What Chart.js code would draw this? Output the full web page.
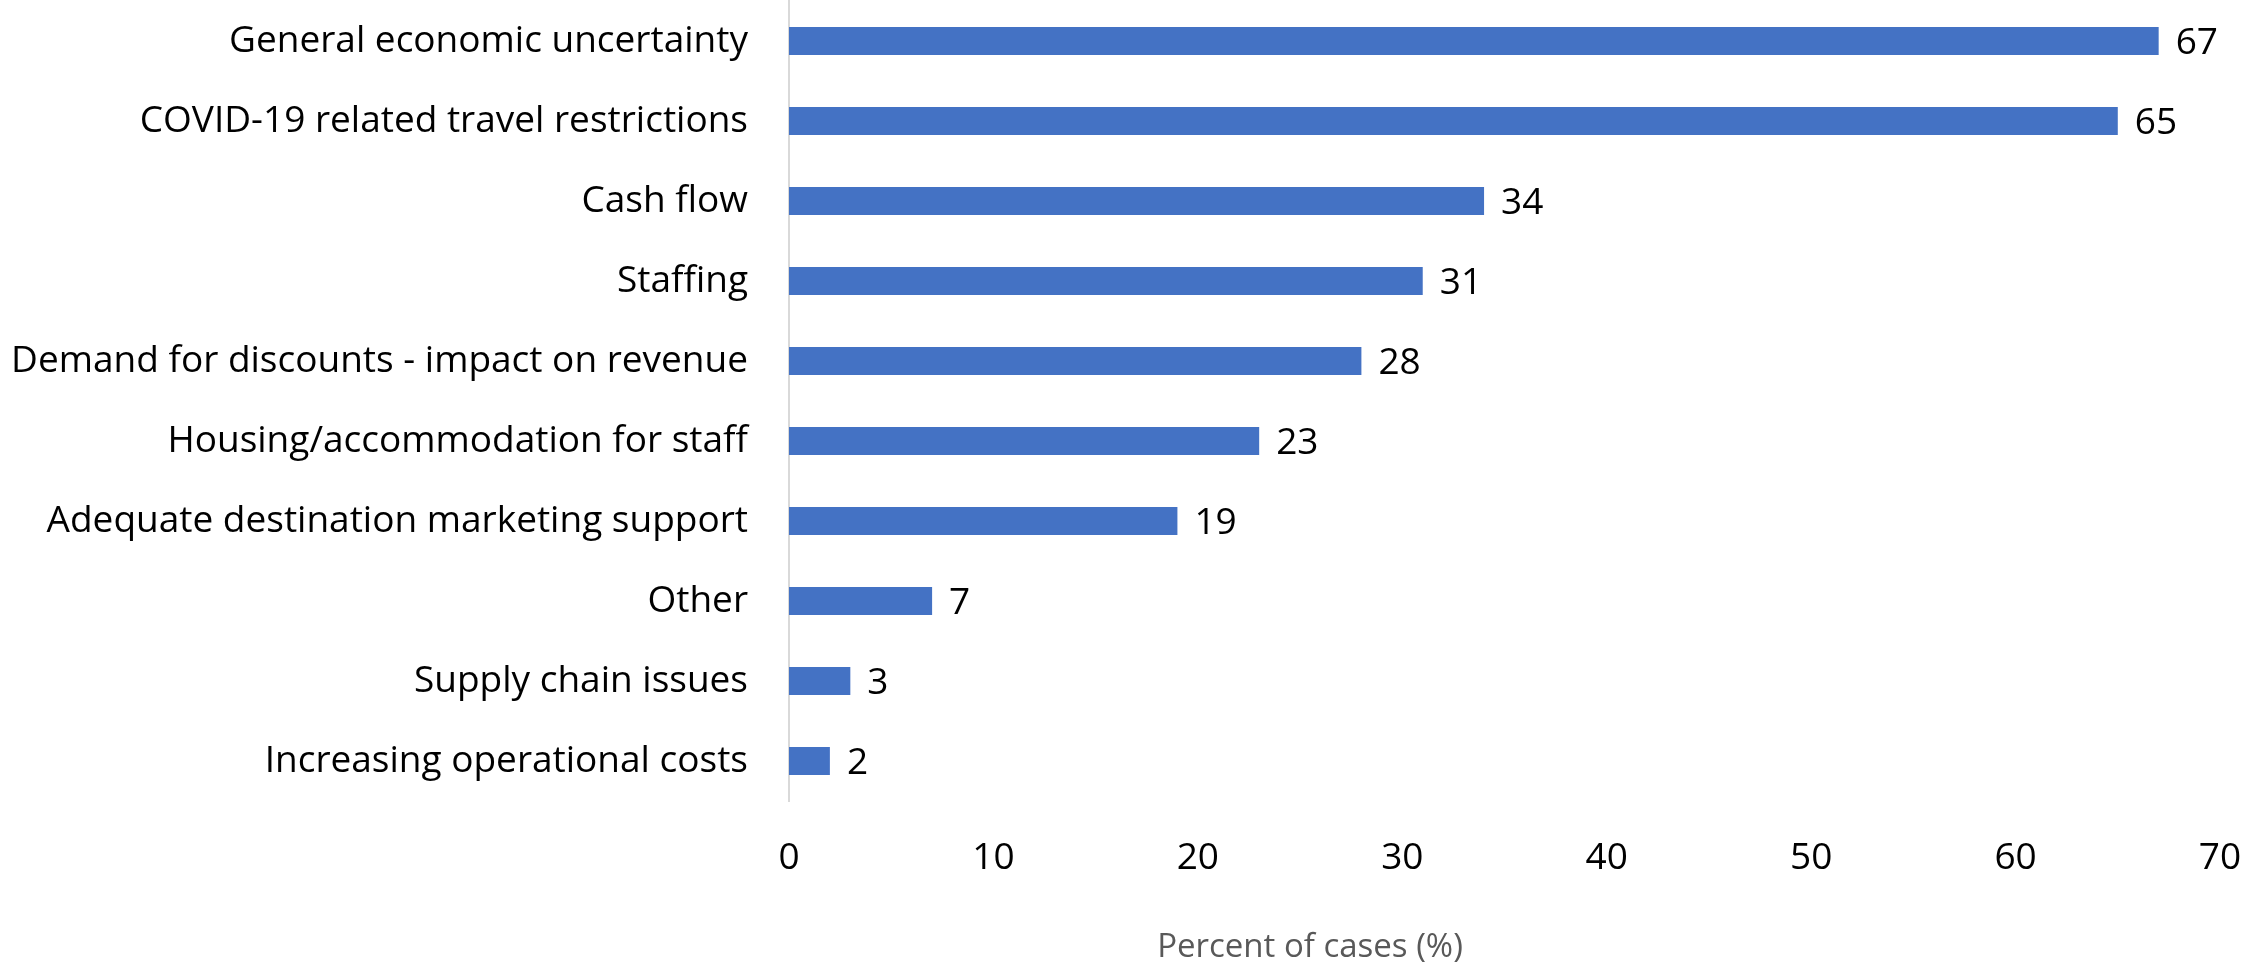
<!DOCTYPE html>
<html>
<head>
<meta charset="utf-8">
<script src="https://cdn.jsdelivr.net/npm/chart.js@4.4.0/dist/chart.umd.min.js"></script>
<style>
  html, body { margin: 0; padding: 0; background: #fff; }
  #wrap { width: 2247px; height: 970px; position: relative; }
</style>
</head>
<body>
<div id="wrap"><canvas id="challengesChart"></canvas></div>
<script>
const categories = [
  'General economic uncertainty',
  'COVID-19 related travel restrictions',
  'Cash flow',
  'Staffing',
  'Demand for discounts - impact on revenue',
  'Housing/accommodation for staff',
  'Adequate destination marketing support',
  'Other',
  'Supply chain issues',
  'Increasing operational costs',
];
const percentOfCases = [67, 65, 34, 31, 28, 23, 19, 7, 3, 2];
const xTicks = [0, 10, 20, 30, 40, 50, 60, 70];
const axisTitle = 'Percent of cases (%)';

const FONT = "'Open Sans', 'Liberation Sans', sans-serif";

// value labels at the end of each bar
const barValueLabels = {
  id: 'barValueLabels',
  afterDatasetsDraw(chart) {
    const { ctx } = chart;
    const meta = chart.getDatasetMeta(0);
    ctx.save();
    ctx.font = '37px ' + FONT;
    ctx.fillStyle = '#000';
    ctx.textAlign = 'left';
    ctx.textBaseline = 'middle';
    meta.data.forEach((bar, i) => {
      ctx.fillText(String(percentOfCases[i]), bar.x + 17, bar.y + 2);
    });
    ctx.restore();
  },
};

// axis title, sits left of the plot centre
const xAxisTitle = {
  id: 'xAxisTitle',
  afterDraw(chart) {
    const { ctx } = chart;
    ctx.save();
    ctx.font = '33px ' + FONT;
    ctx.fillStyle = '#595959';
    ctx.textAlign = 'center';
    ctx.textBaseline = 'middle';
    ctx.fillText(axisTitle, 1310, 948);
    ctx.restore();
  },
};

// drop the extra room chart.js reserves for overhanging tick labels
function noLabelPadding(scale) {
  scale.paddingTop = 0;
  scale.paddingBottom = 0;
  scale.paddingLeft = 0;
  scale.paddingRight = 0;
}

const ctx = document.getElementById('challengesChart').getContext('2d');
const challengesChart = new Chart(ctx, {
  type: 'bar',
  data: {
    labels: categories,
    datasets: [
      {
        label: axisTitle,
        data: percentOfCases,
        backgroundColor: '#4472C4',
        categoryPercentage: 1,
        barPercentage: 0.35,
      },
    ],
  },
  options: {
    indexAxis: 'y',
    responsive: true,
    maintainAspectRatio: false,
    animation: false,
    layout: {
      padding: { top: 1, right: 27, left: 0, bottom: 0 },
    },
    plugins: {
      legend: { display: false },
      tooltip: { enabled: false },
    },
    scales: {
      x: {
        min: 0,
        max: 70,
        afterBuildTicks: (scale) => {
          scale.ticks = xTicks.map((v) => ({ value: v }));
        },
        afterFit: (scale) => {
          scale.height = 169;
          noLabelPadding(scale);
        },
        grid: { display: false, drawTicks: false },
        border: { display: false },
        ticks: {
          color: '#000',
          padding: 35,
          maxRotation: 0,
          font: { family: FONT, size: 37 },
        },
      },
      y: {
        afterFit: (scale) => {
          scale.width = 789;
          noLabelPadding(scale);
        },
        grid: { display: false, drawTicks: false },
        border: { display: true, color: '#d9d9d9', width: 2 },
        ticks: {
          color: '#000',
          padding: 41,
          autoSkip: false,
          font: { family: FONT, size: 37 },
        },
      },
    },
  },
  plugins: [barValueLabels, xAxisTitle],
});
</script>
</body>
</html>
